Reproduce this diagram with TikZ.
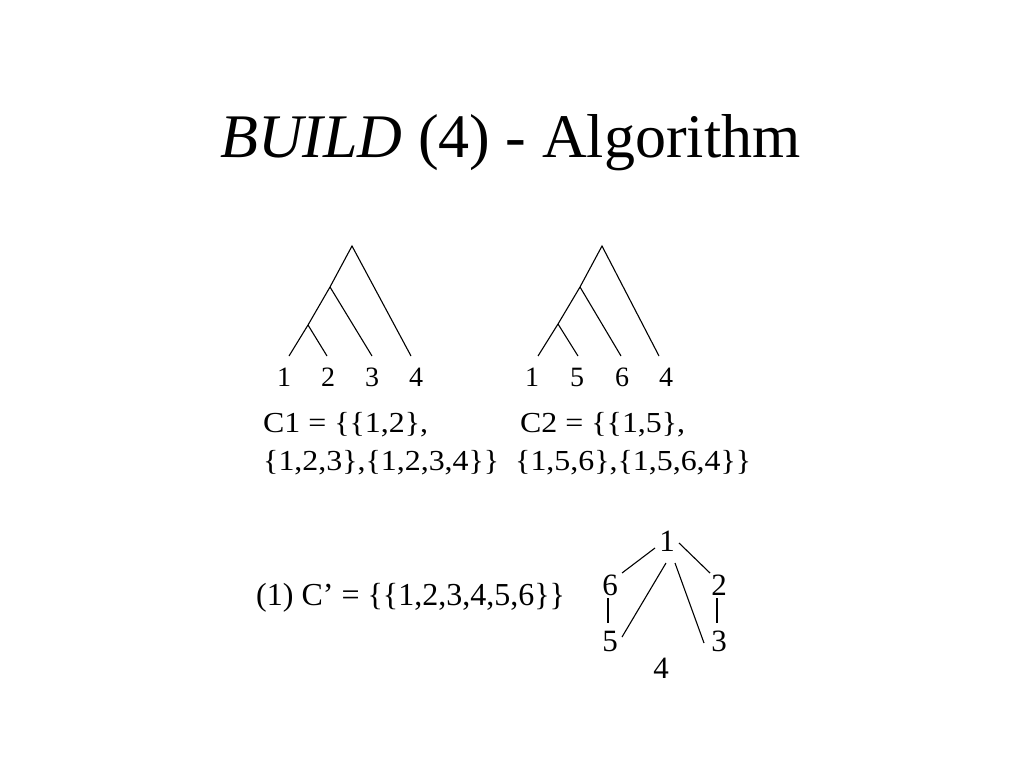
\documentclass[tikz,border=0pt]{standalone}
\usepackage{fontspec}
\setmainfont{Liberation Serif}
\usetikzlibrary{calc}
\begin{document}
\begin{tikzpicture}[x=1pt,y=-1pt,
  edge/.style={line width=1.1pt},
  leaf/.style={font=\fontsize{28}{30}\selectfont, inner sep=0pt, anchor=base},
  gnode/.style={font=\fontsize{31}{34}\selectfont, inner sep=0pt, anchor=center},
  settext/.style={font=\fontsize{29}{30}\selectfont, inner sep=0pt, anchor=base west}]
\useasboundingbox (0,0) rectangle (1024,768);
% title
\node[anchor=base west, inner sep=0pt, font=\fontsize{62}{66}\selectfont] (title) at (220,157) {\textit{BUILD} (4) - Algorithm};

% tree 1
\coordinate (r1) at (352,246);
\coordinate (a1) at (330,287);
\coordinate (b1) at (308,325);
\coordinate (l11) at (289,356);
\coordinate (l12) at (327,356);
\coordinate (l13) at (372,356);
\coordinate (l14) at (411,356);
\draw[edge] (l11) -- (b1) -- (a1) -- (r1) -- (l14);
\draw[edge] (b1) -- (l12);
\draw[edge] (a1) -- (l13);
\node[leaf] (t11) at (284,386) {1};
\node[leaf] (t12) at (328,386) {2};
\node[leaf] (t13) at (372,386) {3};
\node[leaf] (t14) at (416,386) {4};
\node[settext] (c1a) at (263,432) {\scalebox{1.1}[1]{C1 = \{\{1,2\},}};
\node[settext] (c1b) at (263,470) {\scalebox{1.1}[1]{\{1,2,3\},\{1,2,3,4\}\}}};

% tree 2
\coordinate (r2) at (602,246);
\coordinate (a2) at (580,287);
\coordinate (b2) at (558,324);
\coordinate (l21) at (538,356);
\coordinate (l22) at (578,356);
\coordinate (l23) at (621,356);
\coordinate (l24) at (659,356);
\draw[edge] (l21) -- (b2) -- (a2) -- (r2) -- (l24);
\draw[edge] (b2) -- (l22);
\draw[edge] (a2) -- (l23);
\node[leaf] (t21) at (532,386) {1};
\node[leaf] (t22) at (577,386) {5};
\node[leaf] (t23) at (622,386) {6};
\node[leaf] (t24) at (666,386) {4};
\node[settext] (c2a) at (520,432) {\scalebox{1.1}[1]{C2 = \{\{1,5\},}};
\node[settext] (c2b) at (515,470) {\scalebox{1.1}[1]{\{1,5,6\},\{1,5,6,4\}\}}};

% bottom
\node[anchor=base west, inner sep=0pt, font=\fontsize{32}{34}\selectfont] (cp) at (256,605) {(1) C’ = \{\{1,2,3,4,5,6\}\}};
\node[gnode] (g1) at (667,541) {1};
\node[gnode] (g6) at (610,585) {6};
\node[gnode] (g2) at (719,585) {2};
\node[gnode] (g5) at (610,641) {5};
\node[gnode] (g3) at (719,641) {3};
\node[gnode] (g4) at (661,668) {4};
\draw[edge] ([shift={(-12,7)}]g1.center) -- ([shift={(12,-12)}]g6.center);
\draw[edge] ([shift={(12,2)}]g1.center) -- ([shift={(-9,-12)}]g2.center);
\draw[edge] ([shift={(-1,22)}]g1.center) -- ([shift={(12,-4)}]g5.center);
\draw[edge] ([shift={(8,22)}]g1.center) -- ([shift={(-15,2)}]g3.center);
\draw[edge] ([shift={(-2,13)}]g6.center) -- ([shift={(-2,-18)}]g5.center);
\draw[edge] ([shift={(-2,13)}]g2.center) -- ([shift={(-2,-18)}]g3.center);
\end{tikzpicture}
\end{document}
